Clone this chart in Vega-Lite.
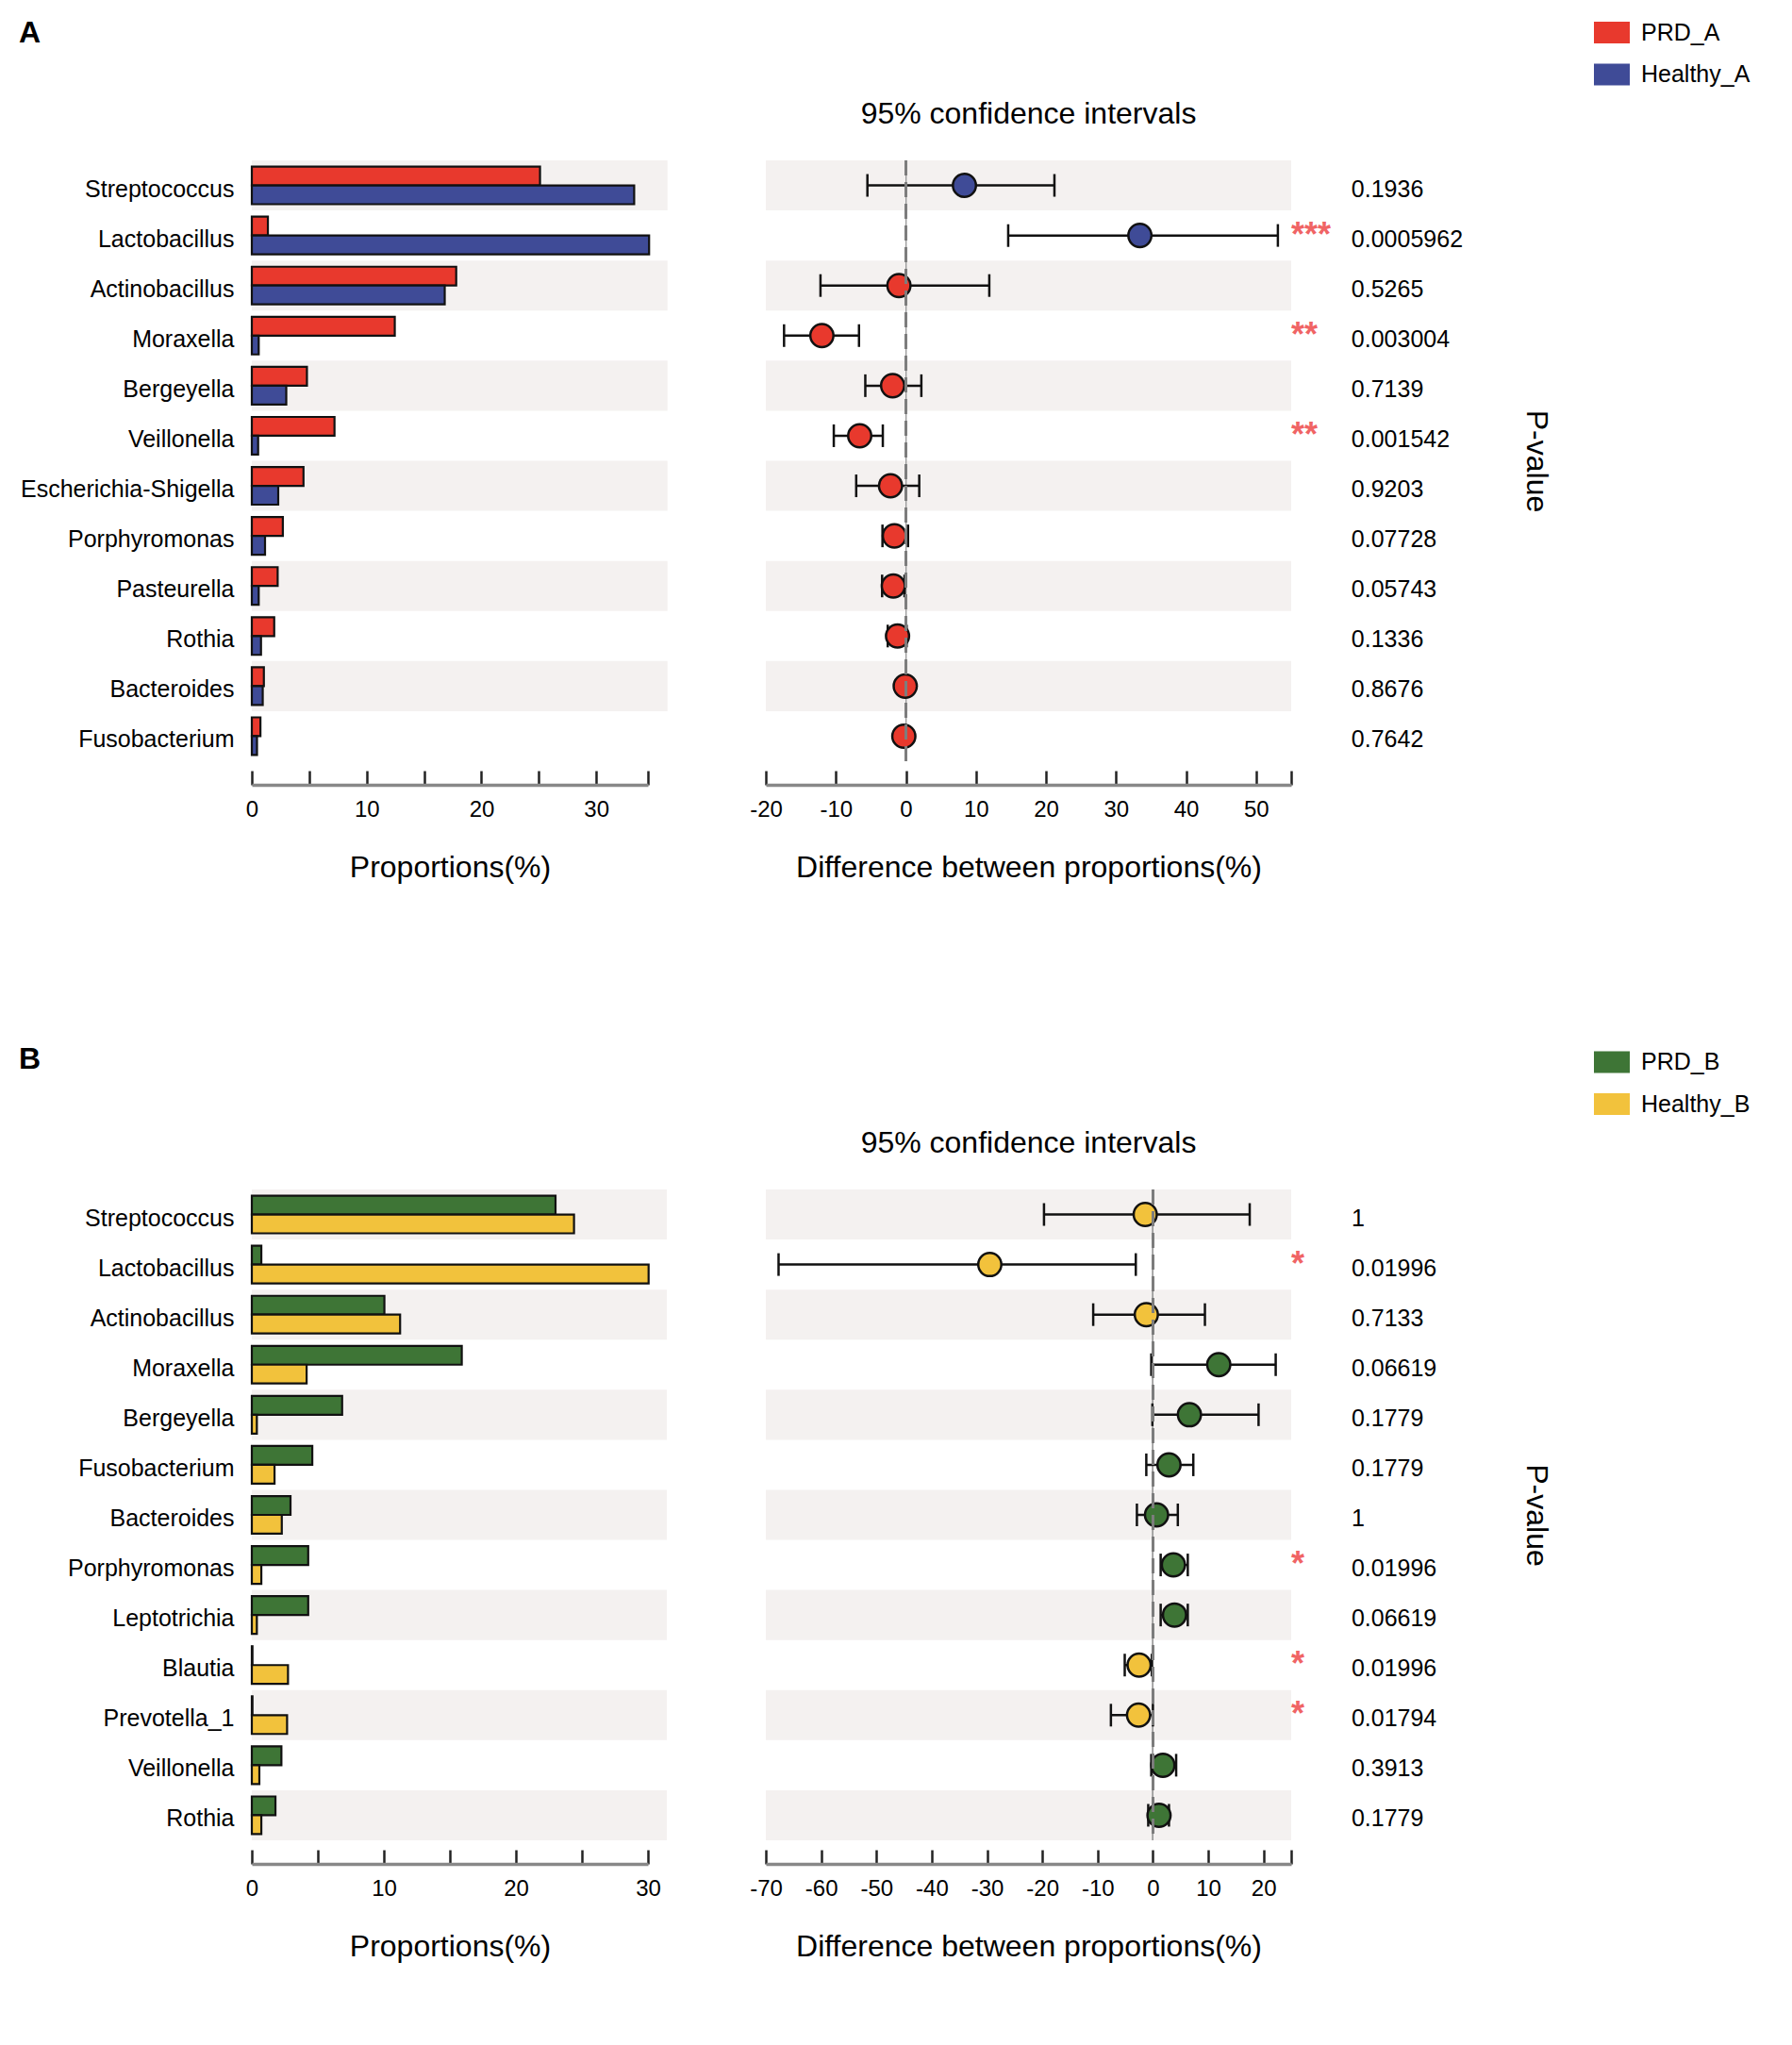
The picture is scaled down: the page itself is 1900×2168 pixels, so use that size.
{
  "$schema": "https://vega.github.io/schema/vega-lite/v6.json",
  "background": "white",
  "padding": {"left": 20, "top": 15, "right": 20, "bottom": 20},
  "bounds": "flush",
  "spacing": 1091,
  "config": {
    "font": "Liberation Sans",
    "view": {"stroke": null},
    "title": {"color": "black"},
    "axis": {"labelColor": "black", "titleColor": "black", "grid": false},
    "legend": {"labelColor": "black"}
  },
  "datasets": {
    "ciA": [
      {"genus": "Streptococcus", "diff": 8.35, "lo": -5.5, "hi": 21.2, "group": "Healthy_A", "p": "0.1936", "star": ""},
      {"genus": "Lactobacillus", "diff": 33.4, "lo": 14.6, "hi": 53.1, "group": "Healthy_A", "p": "0.0005962", "star": "***"},
      {"genus": "Actinobacillus", "diff": -1.0, "lo": -12.2, "hi": 11.9, "group": "PRD_A", "p": "0.5265", "star": ""},
      {"genus": "Moraxella", "diff": -12.0, "lo": -17.4, "hi": -6.7, "group": "PRD_A", "p": "0.003004", "star": "**"},
      {"genus": "Bergeyella", "diff": -1.9, "lo": -5.8, "hi": 2.2, "group": "PRD_A", "p": "0.7139", "star": ""},
      {"genus": "Veillonella", "diff": -6.6, "lo": -10.3, "hi": -3.3, "group": "PRD_A", "p": "0.001542", "star": "**"},
      {"genus": "Escherichia-Shigella", "diff": -2.2, "lo": -7.1, "hi": 1.9, "group": "PRD_A", "p": "0.9203", "star": ""},
      {"genus": "Porphyromonas", "diff": -1.65, "lo": -3.35, "hi": 0.3, "group": "PRD_A", "p": "0.07728", "star": ""},
      {"genus": "Pasteurella", "diff": -1.8, "lo": -3.4, "hi": -0.2, "group": "PRD_A", "p": "0.05743", "star": ""},
      {"genus": "Rothia", "diff": -1.2, "lo": -2.6, "hi": 0.1, "group": "PRD_A", "p": "0.1336", "star": ""},
      {"genus": "Bacteroides", "diff": -0.1, "lo": -0.5, "hi": 0.3, "group": "PRD_A", "p": "0.8676", "star": ""},
      {"genus": "Fusobacterium", "diff": -0.3, "lo": -0.75, "hi": 0.2, "group": "PRD_A", "p": "0.7642", "star": ""}
    ],
    "barsA": [
      {"genus": "Streptococcus", "group": "PRD_A", "prop": 25.1},
      {"genus": "Streptococcus", "group": "Healthy_A", "prop": 33.3},
      {"genus": "Lactobacillus", "group": "PRD_A", "prop": 1.4},
      {"genus": "Lactobacillus", "group": "Healthy_A", "prop": 34.6},
      {"genus": "Actinobacillus", "group": "PRD_A", "prop": 17.8},
      {"genus": "Actinobacillus", "group": "Healthy_A", "prop": 16.8},
      {"genus": "Moraxella", "group": "PRD_A", "prop": 12.45},
      {"genus": "Moraxella", "group": "Healthy_A", "prop": 0.6},
      {"genus": "Bergeyella", "group": "PRD_A", "prop": 4.8},
      {"genus": "Bergeyella", "group": "Healthy_A", "prop": 3.0},
      {"genus": "Veillonella", "group": "PRD_A", "prop": 7.2},
      {"genus": "Veillonella", "group": "Healthy_A", "prop": 0.55},
      {"genus": "Escherichia-Shigella", "group": "PRD_A", "prop": 4.5},
      {"genus": "Escherichia-Shigella", "group": "Healthy_A", "prop": 2.3},
      {"genus": "Porphyromonas", "group": "PRD_A", "prop": 2.7},
      {"genus": "Porphyromonas", "group": "Healthy_A", "prop": 1.15},
      {"genus": "Pasteurella", "group": "PRD_A", "prop": 2.25},
      {"genus": "Pasteurella", "group": "Healthy_A", "prop": 0.6},
      {"genus": "Rothia", "group": "PRD_A", "prop": 1.95},
      {"genus": "Rothia", "group": "Healthy_A", "prop": 0.8},
      {"genus": "Bacteroides", "group": "PRD_A", "prop": 1.05},
      {"genus": "Bacteroides", "group": "Healthy_A", "prop": 0.95},
      {"genus": "Fusobacterium", "group": "PRD_A", "prop": 0.75},
      {"genus": "Fusobacterium", "group": "Healthy_A", "prop": 0.45}
    ],
    "ciB": [
      {"genus": "Streptococcus", "diff": -1.4, "lo": -19.7, "hi": 17.5, "group": "Healthy_B", "p": "1", "star": ""},
      {"genus": "Lactobacillus", "diff": -29.5, "lo": -67.7, "hi": -3.1, "group": "Healthy_B", "p": "0.01996", "star": "*"},
      {"genus": "Actinobacillus", "diff": -1.2, "lo": -10.8, "hi": 9.4, "group": "Healthy_B", "p": "0.7133", "star": ""},
      {"genus": "Moraxella", "diff": 11.9, "lo": -0.3, "hi": 22.2, "group": "PRD_B", "p": "0.06619", "star": ""},
      {"genus": "Bergeyella", "diff": 6.6, "lo": -0.1, "hi": 19.1, "group": "PRD_B", "p": "0.1779", "star": ""},
      {"genus": "Fusobacterium", "diff": 2.9, "lo": -1.2, "hi": 7.3, "group": "PRD_B", "p": "0.1779", "star": ""},
      {"genus": "Bacteroides", "diff": 0.65, "lo": -2.9, "hi": 4.5, "group": "PRD_B", "p": "1", "star": ""},
      {"genus": "Porphyromonas", "diff": 3.7, "lo": 1.4, "hi": 6.3, "group": "PRD_B", "p": "0.01996", "star": "*"},
      {"genus": "Leptotrichia", "diff": 3.9, "lo": 1.4, "hi": 6.3, "group": "PRD_B", "p": "0.06619", "star": ""},
      {"genus": "Blautia", "diff": -2.5, "lo": -5.1, "hi": -0.2, "group": "Healthy_B", "p": "0.01996", "star": "*"},
      {"genus": "Prevotella_1", "diff": -2.6, "lo": -7.6, "hi": 0.0, "group": "Healthy_B", "p": "0.01794", "star": "*"},
      {"genus": "Veillonella", "diff": 1.8, "lo": -0.3, "hi": 4.2, "group": "PRD_B", "p": "0.3913", "star": ""},
      {"genus": "Rothia", "diff": 1.1, "lo": -0.85, "hi": 2.9, "group": "PRD_B", "p": "0.1779", "star": ""}
    ],
    "barsB": [
      {"genus": "Streptococcus", "group": "PRD_B", "prop": 23.0},
      {"genus": "Streptococcus", "group": "Healthy_B", "prop": 24.4},
      {"genus": "Lactobacillus", "group": "PRD_B", "prop": 0.72},
      {"genus": "Lactobacillus", "group": "Healthy_B", "prop": 30.05},
      {"genus": "Actinobacillus", "group": "PRD_B", "prop": 10.04},
      {"genus": "Actinobacillus", "group": "Healthy_B", "prop": 11.23},
      {"genus": "Moraxella", "group": "PRD_B", "prop": 15.9},
      {"genus": "Moraxella", "group": "Healthy_B", "prop": 4.15},
      {"genus": "Bergeyella", "group": "PRD_B", "prop": 6.84},
      {"genus": "Bergeyella", "group": "Healthy_B", "prop": 0.38},
      {"genus": "Fusobacterium", "group": "PRD_B", "prop": 4.58},
      {"genus": "Fusobacterium", "group": "Healthy_B", "prop": 1.72},
      {"genus": "Bacteroides", "group": "PRD_B", "prop": 2.93},
      {"genus": "Bacteroides", "group": "Healthy_B", "prop": 2.27},
      {"genus": "Porphyromonas", "group": "PRD_B", "prop": 4.27},
      {"genus": "Porphyromonas", "group": "Healthy_B", "prop": 0.72},
      {"genus": "Leptotrichia", "group": "PRD_B", "prop": 4.27},
      {"genus": "Leptotrichia", "group": "Healthy_B", "prop": 0.38},
      {"genus": "Blautia", "group": "PRD_B", "prop": 0.05},
      {"genus": "Blautia", "group": "Healthy_B", "prop": 2.74},
      {"genus": "Prevotella_1", "group": "PRD_B", "prop": 0.05},
      {"genus": "Prevotella_1", "group": "Healthy_B", "prop": 2.67},
      {"genus": "Veillonella", "group": "PRD_B", "prop": 2.24},
      {"genus": "Veillonella", "group": "Healthy_B", "prop": 0.57},
      {"genus": "Rothia", "group": "PRD_B", "prop": 1.79},
      {"genus": "Rothia", "group": "Healthy_B", "prop": 0.72}
    ]
  },
  "resolve": {"scale": {"color": "independent", "yOffset": "independent"}, "legend": {"color": "independent"}},
  "vconcat": [
    {
      "bounds": "flush",
      "spacing": 125,
      "resolve": {"scale": {"x": "independent", "y": "independent", "color": "shared"}},
      "hconcat": [
        {
          "width": 420,
          "height": 637,
          "title": {"text": "A", "fontSize": 32, "fontWeight": "bold", "anchor": "start", "frame": "group", "dx": -247, "offset": 93.5, "baseline": "alphabetic", "color": "black"},
          "layer": [
            {
              "data": {"name": "ciA"},
              "transform": [{"window": [{"op": "row_number", "as": "idx"}]}, {"filter": "datum.idx % 2 === 1"}],
              "mark": {"type": "rect", "fill": "#f4f1f0"},
              "encoding": {
                "y": {"field": "genus", "type": "nominal",
                  "scale": {"domain": ["Streptococcus","Lactobacillus","Actinobacillus","Moraxella","Bergeyella","Veillonella","Escherichia-Shigella","Porphyromonas","Pasteurella","Rothia","Bacteroides","Fusobacterium"], "paddingInner": 0, "paddingOuter": 0},
                  "axis": {"title": null, "ticks": false, "domain": false, "labelFontSize": 25, "labelPadding": 19, "labelOffset": 4, "labelLimit": 400}},
                "x": {"datum": 0, "type": "quantitative",
                  "scale": {"domain": [0, 34.5], "nice": false, "zero": false},
                  "axis": {"title": "Proportions(%)", "titleFontSize": 32, "titleFontWeight": "normal", "titlePadding": 34, "offset": 25,
                    "values": [0, 5, 10, 15, 20, 25, 30, 34.5], "labelExpr": "datum.value % 10 === 0 ? toString(datum.value) : ''",
                    "tickSize": -15, "tickWidth": 2.5, "tickColor": "#222", "domainColor": "#888", "domainWidth": 3.5,
                    "labelPadding": 29, "labelFontSize": 24, "labelFlush": false, "labelOverlap": false}},
                "x2": {"datum": 36.2}
              }
            },
            {
              "data": {"name": "barsA"},
              "mark": {"type": "bar", "stroke": "#111", "strokeWidth": 2.2, "opacity": 1},
              "encoding": {
                "y": {"field": "genus", "type": "nominal"},
                "yOffset": {"field": "group", "type": "nominal", "scale": {"domain": ["PRD_A", "Healthy_A"], "paddingInner": 0, "paddingOuter": 0.33}},
                "x": {"field": "prop", "type": "quantitative"},
                "color": {"field": "group", "type": "nominal",
                  "scale": {"domain": ["PRD_A", "Healthy_A"], "range": ["#e8392d", "#3f4b97"]},
                  "legend": {"title": null, "orient": "none", "legendX": 1423, "legendY": -154.5, "direction": "vertical",
                    "symbolType": "M-1,-0.6H1V0.6H-1Z", "symbolSize": 1444, "symbolStrokeWidth": 0, "symbolOpacity": 1,
                    "labelFontSize": 25, "labelOffset": 12, "rowPadding": 12.5, "padding": 0}}
              }
            }
          ]
        },
        {
          "width": 557,
          "height": 637,
          "title": {"text": "95% confidence intervals", "fontSize": 32, "fontWeight": "normal", "anchor": "middle", "offset": 6, "baseline": "alphabetic", "color": "black"},
          "data": {"name": "ciA"},
          "layer": [
            {
              "transform": [{"window": [{"op": "row_number", "as": "idx"}]}, {"filter": "datum.idx % 2 === 1"}],
              "mark": {"type": "rect", "fill": "#f4f1f0"},
              "encoding": {
                "y": {"field": "genus", "type": "nominal",
                  "scale": {"domain": ["Streptococcus","Lactobacillus","Actinobacillus","Moraxella","Bergeyella","Veillonella","Escherichia-Shigella","Porphyromonas","Pasteurella","Rothia","Bacteroides","Fusobacterium"], "paddingInner": 0, "paddingOuter": 0},
                  "axis": {"orient": "right", "labels": false, "ticks": false, "domain": false, "title": "P-value", "titleFontSize": 32, "titleFontWeight": "normal", "titleAngle": 90, "titleBaseline": "alphabetic", "titlePadding": 249}},
                "x": {"datum": -20, "type": "quantitative",
                  "scale": {"domain": [-20, 55], "nice": false, "zero": false},
                  "axis": {"title": "Difference between proportions(%)", "titleFontSize": 32, "titleFontWeight": "normal", "titlePadding": 34, "offset": 25,
                    "values": [-20, -10, 0, 10, 20, 30, 40, 50, 55], "labelExpr": "datum.value % 10 === 0 ? toString(datum.value) : ''",
                    "tickSize": -15, "tickWidth": 2.5, "tickColor": "#222", "domainColor": "#888", "domainWidth": 3.5,
                    "labelPadding": 29, "labelFontSize": 24, "labelFlush": false, "labelOverlap": false}},
                "x2": {"datum": 55}
              }
            },
            {
              "mark": {"type": "rule", "stroke": "#9a9a9a", "strokeWidth": 1},
              "encoding": {"x": {"datum": 0, "type": "quantitative"}}
            },
            {
              "mark": {"type": "rule", "stroke": "#111", "strokeWidth": 2.5},
              "encoding": {"y": {"field": "genus", "type": "nominal"}, "x": {"field": "lo", "type": "quantitative"}, "x2": {"field": "hi"}}
            },
            {
              "mark": {"type": "tick", "color": "#111", "size": 24, "thickness": 2.5, "opacity": 1},
              "encoding": {"y": {"field": "genus", "type": "nominal"}, "x": {"field": "lo", "type": "quantitative"}}
            },
            {
              "mark": {"type": "tick", "color": "#111", "size": 24, "thickness": 2.5, "opacity": 1},
              "encoding": {"y": {"field": "genus", "type": "nominal"}, "x": {"field": "hi", "type": "quantitative"}}
            },
            {
              "mark": {"type": "circle", "size": 600, "stroke": "#111", "strokeWidth": 2.5, "opacity": 1},
              "encoding": {"y": {"field": "genus", "type": "nominal"}, "x": {"field": "diff", "type": "quantitative"}, "color": {"field": "group", "type": "nominal"}}
            },
            {
              "mark": {"type": "rule", "stroke": "#7d7d7d", "strokeWidth": 2.5, "strokeDash": [16, 7]},
              "encoding": {"x": {"datum": 0, "type": "quantitative"}}
            },
            {
              "mark": {"type": "text", "align": "left", "baseline": "middle", "fontSize": 36, "fontWeight": "bold", "fill": "#f06464"},
              "encoding": {"y": {"field": "genus", "type": "nominal"}, "x": {"datum": 55, "type": "quantitative"}, "text": {"field": "star"}}
            },
            {
              "mark": {"type": "text", "align": "left", "baseline": "middle", "fontSize": 25, "dy": 4, "fill": "black"},
              "encoding": {"y": {"field": "genus", "type": "nominal"}, "x": {"datum": 63.6, "type": "quantitative"}, "text": {"field": "p"}}
            }
          ]
        }
      ]
    },
    {
      "bounds": "flush",
      "spacing": 125,
      "resolve": {"scale": {"x": "independent", "y": "independent", "color": "shared"}},
      "hconcat": [
        {
          "width": 420,
          "height": 690,
          "title": {"text": "B", "fontSize": 32, "fontWeight": "bold", "anchor": "start", "frame": "group", "dx": -247, "offset": 96, "baseline": "alphabetic", "color": "black"},
          "layer": [
            {
              "data": {"name": "ciB"},
              "transform": [{"window": [{"op": "row_number", "as": "idx"}]}, {"filter": "datum.idx % 2 === 1"}],
              "mark": {"type": "rect", "fill": "#f4f1f0"},
              "encoding": {
                "y": {"field": "genus", "type": "nominal",
                  "scale": {"domain": ["Streptococcus","Lactobacillus","Actinobacillus","Moraxella","Bergeyella","Fusobacterium","Bacteroides","Porphyromonas","Leptotrichia","Blautia","Prevotella_1","Veillonella","Rothia"], "paddingInner": 0, "paddingOuter": 0},
                  "axis": {"title": null, "ticks": false, "domain": false, "labelFontSize": 25, "labelPadding": 19, "labelOffset": 4, "labelLimit": 400}},
                "x": {"datum": 0, "type": "quantitative",
                  "scale": {"domain": [0, 30], "nice": false, "zero": false},
                  "axis": {"title": "Proportions(%)", "titleFontSize": 32, "titleFontWeight": "normal", "titlePadding": 34, "offset": 25,
                    "values": [0, 5, 10, 15, 20, 25, 30], "labelExpr": "datum.value % 10 === 0 ? toString(datum.value) : ''",
                    "tickSize": -15, "tickWidth": 2.5, "tickColor": "#222", "domainColor": "#888", "domainWidth": 3.5,
                    "labelPadding": 29, "labelFontSize": 24, "labelFlush": false, "labelOverlap": false}},
                "x2": {"datum": 31.43}
              }
            },
            {
              "data": {"name": "barsB"},
              "mark": {"type": "bar", "stroke": "#111", "strokeWidth": 2.2, "opacity": 1},
              "encoding": {
                "y": {"field": "genus", "type": "nominal"},
                "yOffset": {"field": "group", "type": "nominal", "scale": {"domain": ["PRD_B", "Healthy_B"], "paddingInner": 0, "paddingOuter": 0.33}},
                "x": {"field": "prop", "type": "quantitative"},
                "color": {"field": "group", "type": "nominal",
                  "scale": {"domain": ["PRD_B", "Healthy_B"], "range": ["#3e7536", "#f2c23c"]},
                  "legend": {"title": null, "orient": "none", "legendX": 1423, "legendY": -154, "direction": "vertical",
                    "symbolType": "M-1,-0.6H1V0.6H-1Z", "symbolSize": 1444, "symbolStrokeWidth": 0, "symbolOpacity": 1,
                    "labelFontSize": 25, "labelOffset": 12, "rowPadding": 12.5, "padding": 0}}
              }
            }
          ]
        },
        {
          "width": 557,
          "height": 690,
          "title": {"text": "95% confidence intervals", "fontSize": 32, "fontWeight": "normal", "anchor": "middle", "offset": 6, "baseline": "alphabetic", "color": "black"},
          "data": {"name": "ciB"},
          "layer": [
            {
              "transform": [{"window": [{"op": "row_number", "as": "idx"}]}, {"filter": "datum.idx % 2 === 1"}],
              "mark": {"type": "rect", "fill": "#f4f1f0"},
              "encoding": {
                "y": {"field": "genus", "type": "nominal",
                  "scale": {"domain": ["Streptococcus","Lactobacillus","Actinobacillus","Moraxella","Bergeyella","Fusobacterium","Bacteroides","Porphyromonas","Leptotrichia","Blautia","Prevotella_1","Veillonella","Rothia"], "paddingInner": 0, "paddingOuter": 0},
                  "axis": {"orient": "right", "labels": false, "ticks": false, "domain": false, "title": "P-value", "titleFontSize": 32, "titleFontWeight": "normal", "titleAngle": 90, "titleBaseline": "alphabetic", "titlePadding": 249}},
                "x": {"datum": -70, "type": "quantitative",
                  "scale": {"domain": [-70, 25], "nice": false, "zero": false},
                  "axis": {"title": "Difference between proportions(%)", "titleFontSize": 32, "titleFontWeight": "normal", "titlePadding": 34, "offset": 25,
                    "values": [-70, -60, -50, -40, -30, -20, -10, 0, 10, 20, 25], "labelExpr": "datum.value % 10 === 0 ? toString(datum.value) : ''",
                    "tickSize": -15, "tickWidth": 2.5, "tickColor": "#222", "domainColor": "#888", "domainWidth": 3.5,
                    "labelPadding": 29, "labelFontSize": 24, "labelFlush": false, "labelOverlap": false}},
                "x2": {"datum": 25}
              }
            },
            {
              "mark": {"type": "rule", "stroke": "#9a9a9a", "strokeWidth": 1},
              "encoding": {"x": {"datum": 0, "type": "quantitative"}}
            },
            {
              "mark": {"type": "rule", "stroke": "#111", "strokeWidth": 2.5},
              "encoding": {"y": {"field": "genus", "type": "nominal"}, "x": {"field": "lo", "type": "quantitative"}, "x2": {"field": "hi"}}
            },
            {
              "mark": {"type": "tick", "color": "#111", "size": 24, "thickness": 2.5, "opacity": 1},
              "encoding": {"y": {"field": "genus", "type": "nominal"}, "x": {"field": "lo", "type": "quantitative"}}
            },
            {
              "mark": {"type": "tick", "color": "#111", "size": 24, "thickness": 2.5, "opacity": 1},
              "encoding": {"y": {"field": "genus", "type": "nominal"}, "x": {"field": "hi", "type": "quantitative"}}
            },
            {
              "mark": {"type": "circle", "size": 600, "stroke": "#111", "strokeWidth": 2.5, "opacity": 1},
              "encoding": {"y": {"field": "genus", "type": "nominal"}, "x": {"field": "diff", "type": "quantitative"}, "color": {"field": "group", "type": "nominal"}}
            },
            {
              "mark": {"type": "rule", "stroke": "#7d7d7d", "strokeWidth": 2.5, "strokeDash": [16, 7]},
              "encoding": {"x": {"datum": 0, "type": "quantitative"}}
            },
            {
              "mark": {"type": "text", "align": "left", "baseline": "middle", "fontSize": 36, "fontWeight": "bold", "fill": "#f06464"},
              "encoding": {"y": {"field": "genus", "type": "nominal"}, "x": {"datum": 25, "type": "quantitative"}, "text": {"field": "star"}}
            },
            {
              "mark": {"type": "text", "align": "left", "baseline": "middle", "fontSize": 25, "dy": 4, "fill": "black"},
              "encoding": {"y": {"field": "genus", "type": "nominal"}, "x": {"datum": 35.9, "type": "quantitative"}, "text": {"field": "p"}}
            }
          ]
        }
      ]
    }
  ]
}
